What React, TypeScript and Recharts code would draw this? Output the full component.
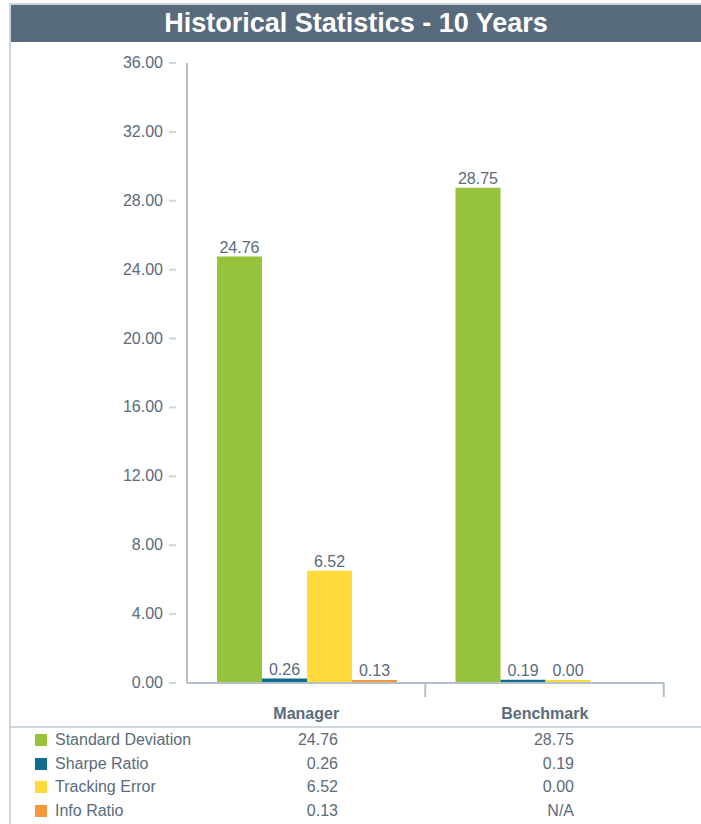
import { Bar, BarChart, LabelList, XAxis, YAxis } from "recharts";

const groups = ["Manager", "Benchmark"];
const metrics = ["Standard Deviation", "Sharpe Ratio", "Tracking Error", "Info Ratio"];
const managerValues = [24.76, 0.26, 6.52, 0.13];
const benchmarkValues: (number | null)[] = [28.75, 0.19, 0.0, null];
const yTicks = [0, 4, 8, 12, 16, 20, 24, 28, 32, 36];

const COLORS = ["#97c23c", "#0d6b8c", "#fedb3b", "#f7993a"];
const TEXT = "#5a6b7b";
const AXIS = "#b4c0cb";
const FONT = "'Liberation Sans', Arial, sans-serif";

const KEYS = ["sd", "sharpe", "te", "info"];
const rows = [managerValues, benchmarkValues].map((vals, gi) => {
  const r: Record<string, string | number | null> = { name: groups[gi] };
  KEYS.forEach((k, i) => (r[k] = vals[i]));
  return r;
});

const fmt = (v: number | null | undefined) => (v == null ? "N/A" : v.toFixed(2));

function YTick(props: any) {
  const { x, y, payload } = props;
  return (
    <g>
      <line x1={x - 10} x2={x - 3} y1={y} y2={y} stroke="#d0d5da" strokeWidth={2} />
      <text x={x - 16} y={y} dy={5} textAnchor="end" fontSize={16} fill={TEXT} fontFamily={FONT}>
        {fmt(payload.value)}
      </text>
    </g>
  );
}

function XTick(props: any) {
  const { x, y, payload } = props;
  return (
    <g>
      <line x1={x + 119} x2={x + 119} y1={y - 8} y2={y + 6} stroke={AXIS} strokeWidth={2} />
      <text x={x} y={y + 28} textAnchor="middle" fontSize={16} fontWeight="bold" fill={TEXT} fontFamily={FONT}>
        {payload.value}
      </text>
    </g>
  );
}

export default function App() {
  return (
    <div style={{ position: "absolute", left: 0, top: 0, width: 701, height: 824, background: "#fff", fontFamily: FONT }}>
      <div style={{ position: "absolute", left: 9, top: 3, width: 692, height: 2, background: "#cfd5dc" }} />
      <div style={{ position: "absolute", left: 9, top: 3, width: 2, height: 821, background: "#cfd5dc" }} />
      <div
        style={{
          position: "absolute", left: 11, top: 5, width: 690, height: 37, background: "#576b7c",
          color: "#fff", fontWeight: "bold", fontSize: 27, lineHeight: "37px", textAlign: "center",
        }}
      >
        Historical Statistics - 10 Years
      </div>
      <div style={{ position: "absolute", left: 0, top: 0 }}>
        <BarChart
          width={701}
          height={730}
          data={rows}
          margin={{ top: 63, right: 37, left: 0, bottom: 6 }}
          barCategoryGap={30}
          barGap={0}
        >
          <YAxis
            width={187}
            domain={[0, 36]}
            ticks={yTicks}
            interval={0}
            axisLine={{ stroke: AXIS, strokeWidth: 2 }}
            tickLine={false}
            tick={<YTick />}
          />
          <XAxis
            dataKey="name"
            height={41}
            axisLine={{ stroke: AXIS, strokeWidth: 2 }}
            tickLine={false}
            tick={<XTick />}
            interval={0}
          />
          {KEYS.map((k, i) => (
            <Bar key={k} dataKey={k} fill={COLORS[i]} isAnimationActive={false} minPointSize={3}>
              <LabelList
                dataKey={k}
                position="top"
                offset={4}
                fontSize={16}
                fill={TEXT}
                fontFamily={FONT}
                formatter={(v: any) => (v == null ? "" : fmt(v))}
              />
            </Bar>
          ))}
        </BarChart>
      </div>
      <div style={{ position: "absolute", left: 9, top: 726, width: 692, height: 2, background: "#cfd5dc" }} />
      {metrics.map((m, i) => (
        <div key={m} style={{ position: "absolute", left: 0, top: 730 + i * 23.5, width: 701, height: 20, fontSize: 16, color: TEXT }}>
          <div style={{ position: "absolute", left: 35, top: 4, width: 12, height: 12, background: COLORS[i] }} />
          <div style={{ position: "absolute", left: 55, top: 0, lineHeight: "20px" }}>{m}</div>
          <div style={{ position: "absolute", right: 701 - 338, top: 0, lineHeight: "20px" }}>{fmt(managerValues[i])}</div>
          <div style={{ position: "absolute", right: 701 - 574, top: 0, lineHeight: "20px" }}>{fmt(benchmarkValues[i])}</div>
        </div>
      ))}
    </div>
  );
}
